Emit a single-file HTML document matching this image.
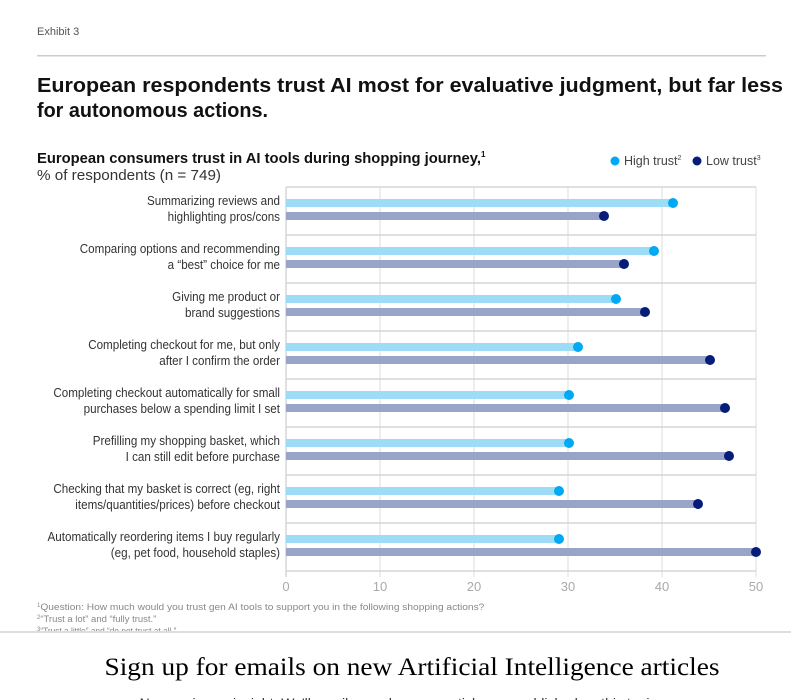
<!DOCTYPE html><html><head><meta charset="utf-8"><style>body{margin:0;background:#fff}svg{display:block}</style></head><body>
<svg width="791" height="700" xmlns="http://www.w3.org/2000/svg" font-family="Liberation Sans, sans-serif">
<text x="37" y="35" font-size="11" fill="#555">Exhibit 3</text>
<rect x="37" y="55" width="729" height="1.5" fill="#ccc"/>
<text x="37" y="92" font-size="20" font-weight="bold" fill="#111" textLength="746" lengthAdjust="spacingAndGlyphs">European respondents trust AI most for evaluative judgment, but far less</text>
<text x="37" y="117" font-size="20" font-weight="bold" fill="#111" textLength="231" lengthAdjust="spacingAndGlyphs">for autonomous actions.</text>
<text x="37" y="163" font-size="14.5" font-weight="bold" fill="#111"><tspan textLength="444" lengthAdjust="spacingAndGlyphs">European consumers trust in AI tools during shopping journey,</tspan><tspan font-size="8" dy="-6">1</tspan></text>
<text x="37" y="180" font-size="15" fill="#333" textLength="184" lengthAdjust="spacingAndGlyphs">% of respondents (n = 749)</text>
<circle cx="615" cy="161" r="4.5" fill="#00a9f4"/><text x="624" y="165" font-size="12.5" fill="#444">High trust<tspan font-size="7" dy="-5">2</tspan></text>
<circle cx="697" cy="161" r="4.5" fill="#051c7a"/><text x="706" y="165" font-size="12.5" fill="#444">Low trust<tspan font-size="7" dy="-5">3</tspan></text>
<g stroke="#ddd" stroke-width="1">
<line x1="380" y1="187" x2="380" y2="571"/><line x1="474" y1="187" x2="474" y2="571"/><line x1="568" y1="187" x2="568" y2="571"/><line x1="662" y1="187" x2="662" y2="571"/><line x1="756" y1="187" x2="756" y2="577"/>
<line x1="380" y1="571" x2="380" y2="577"/><line x1="474" y1="571" x2="474" y2="577"/><line x1="568" y1="571" x2="568" y2="577"/><line x1="662" y1="571" x2="662" y2="577"/>
</g>
<g stroke="#d6d6d6" stroke-width="1.5">
<line x1="286" y1="187" x2="756" y2="187"/><line x1="286" y1="235" x2="756" y2="235"/><line x1="286" y1="283" x2="756" y2="283"/><line x1="286" y1="331" x2="756" y2="331"/><line x1="286" y1="379" x2="756" y2="379"/><line x1="286" y1="427" x2="756" y2="427"/><line x1="286" y1="475" x2="756" y2="475"/><line x1="286" y1="523" x2="756" y2="523"/><line x1="286" y1="571" x2="756" y2="571"/>
<line x1="286" y1="187" x2="286" y2="577"/>
</g>
<g>
<rect x="286" y="199" width="387" height="8" fill="#9ddcf7"/><rect x="286" y="212" width="318" height="8" fill="#9aa3c8"/>
<rect x="286" y="247" width="368" height="8" fill="#9ddcf7"/><rect x="286" y="260" width="338" height="8" fill="#9aa3c8"/>
<rect x="286" y="295" width="330" height="8" fill="#9ddcf7"/><rect x="286" y="308" width="359" height="8" fill="#9aa3c8"/>
<rect x="286" y="343" width="292" height="8" fill="#9ddcf7"/><rect x="286" y="356" width="424" height="8" fill="#9aa3c8"/>
<rect x="286" y="391" width="283" height="8" fill="#9ddcf7"/><rect x="286" y="404" width="439" height="8" fill="#9aa3c8"/>
<rect x="286" y="439" width="283" height="8" fill="#9ddcf7"/><rect x="286" y="452" width="443" height="8" fill="#9aa3c8"/>
<rect x="286" y="487" width="273" height="8" fill="#9ddcf7"/><rect x="286" y="500" width="412" height="8" fill="#9aa3c8"/>
<rect x="286" y="535" width="273" height="8" fill="#9ddcf7"/><rect x="286" y="548" width="470" height="8" fill="#9aa3c8"/>
</g>
<g fill="#00a9f4">
<circle cx="673" cy="203" r="5"/><circle cx="654" cy="251" r="5"/><circle cx="616" cy="299" r="5"/><circle cx="578" cy="347" r="5"/><circle cx="569" cy="395" r="5"/><circle cx="569" cy="443" r="5"/><circle cx="559" cy="491" r="5"/><circle cx="559" cy="539" r="5"/>
</g>
<g fill="#051c7a">
<circle cx="604" cy="216" r="5"/><circle cx="624" cy="264" r="5"/><circle cx="645" cy="312" r="5"/><circle cx="710" cy="360" r="5"/><circle cx="725" cy="408" r="5"/><circle cx="729" cy="456" r="5"/><circle cx="698" cy="504" r="5"/><circle cx="756" cy="552" r="5"/>
</g>
<g transform="translate(280,0) scale(0.93,1) translate(-280,0)" font-size="12.5" fill="#333" text-anchor="end">
<text x="280" y="205">Summarizing reviews and</text><text x="280" y="221">highlighting pros/cons</text>
<text x="280" y="253">Comparing options and recommending</text><text x="280" y="269">a “best” choice for me</text>
<text x="280" y="301">Giving me product or</text><text x="280" y="317">brand suggestions</text>
<text x="280" y="349">Completing checkout for me, but only</text><text x="280" y="365">after I confirm the order</text>
<text x="280" y="397">Completing checkout automatically for small</text><text x="280" y="413">purchases below a spending limit I set</text>
<text x="280" y="445">Prefilling my shopping basket, which</text><text x="280" y="461">I can still edit before purchase</text>
<text x="280" y="493">Checking that my basket is correct (eg, right</text><text x="280" y="509">items/quantities/prices) before checkout</text>
<text x="280" y="541">Automatically reordering items I buy regularly</text><text x="280" y="557">(eg, pet food, household staples)</text>
</g>
<g font-size="13" fill="#aaa" text-anchor="middle">
<text x="286" y="591">0</text><text x="380" y="591">10</text><text x="474" y="591">20</text><text x="568" y="591">30</text><text x="662" y="591">40</text><text x="756" y="591">50</text>
</g>
<g font-size="9.5" fill="#888">
<text x="37" y="610"><tspan font-size="6" dy="-3">1</tspan><tspan dy="3" textLength="444" lengthAdjust="spacingAndGlyphs">Question: How much would you trust gen AI tools to support you in the following shopping actions?</tspan></text>
<text x="37" y="622"><tspan font-size="6" dy="-3">2</tspan><tspan dy="3" textLength="116" lengthAdjust="spacingAndGlyphs">“Trust a lot” and “fully trust.”</tspan></text>
<text x="37" y="634"><tspan font-size="6" dy="-3">3</tspan><tspan dy="3" textLength="136" lengthAdjust="spacingAndGlyphs">“Trust a little” and “do not trust at all.”</tspan></text>
</g>
<rect x="0" y="631" width="791" height="69" fill="#fff"/>
<rect x="0" y="631" width="791" height="2" fill="#ddd"/>
<text x="412" y="675" font-family="Liberation Serif, serif" font-size="25" fill="#000" text-anchor="middle" textLength="615" lengthAdjust="spacingAndGlyphs">Sign up for emails on new Artificial Intelligence articles</text>
<text x="400" y="708" font-size="14" fill="#333" text-anchor="middle">Never miss an insight. We'll email you when new articles are published on this topic.</text>
</svg>
</body></html>
